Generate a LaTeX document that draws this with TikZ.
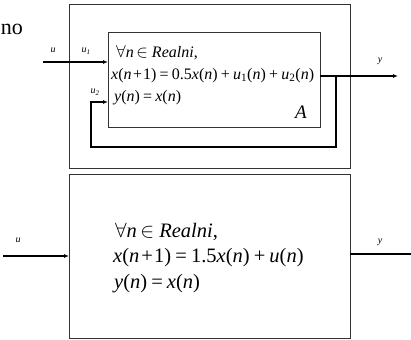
\documentclass[tikz,border=0pt]{standalone}
\usepackage{fontspec}
\setmainfont{Liberation Serif}
\usetikzlibrary{arrows.meta}
\newcommand{\vi}[1]{\textit{#1}}
\newcommand{\bop}[1]{\hspace{0.2em}#1\hspace{0.2em}}
\newcommand{\iop}[1]{\hspace{0.1em}#1\hspace{0.06em}}
\begin{document}
\begin{tikzpicture}[x=1pt,y=-1pt,
  boxx/.style={draw=black!80, line width=0.9pt, inner sep=0pt, outer sep=0pt},
  wire/.style={line width=1.2pt, -{Latex[length=5pt,width=4pt]}},
  plain/.style={line width=1.2pt},
  lbl/.style={font=\fontsize{10}{11}\selectfont\itshape, inner sep=0pt},
  eqA/.style={font=\fontsize{16}{18}\selectfont, inner sep=0pt, anchor=west},
  eqB/.style={font=\fontsize{20.5}{22}\selectfont, inner sep=0pt, anchor=west}]
\useasboundingbox (0,0) rectangle (411,339);
% top
\node[boxx, minimum width=281pt, minimum height=164pt] (outer) at (209.5,86) {};
\node[boxx, minimum width=212pt, minimum height=95pt] (inner) at (214,79.5) {};
\node[font=\fontsize{22}{24}\selectfont, inner sep=0pt, anchor=east] (no) at (23,29) {no};
\node[eqA] (a1) at (116,53) {$\forall$\vi{n}\,$\in$ \vi{Realni},};
\node[eqA] (a2) at (111,75.5) {\vi{x}(\vi{n}\iop{+}1)\bop{=}0.5\vi{x}(\vi{n})\bop{+}\vi{u}\textsubscript{1}(\vi{n})\bop{+}\vi{u}\textsubscript{2}(\vi{n})};
\node[eqA] (a3) at (114,98) {\vi{y}(\vi{n})\bop{=}\vi{x}(\vi{n})};
\node[font=\fontsize{19}{20}\selectfont\itshape, inner sep=0pt] (A) at (301,112) {A};
\coordinate (uin) at (43,62);
\coordinate (i1) at (inner.west |- uin);
\draw[wire] (uin) -- (i1);
\node[lbl] (lu) at (53,50) {u};
\node[lbl] (lu1) at (86,51) {u\textsubscript{1}};
\node[lbl] (lu2) at (95,92) {u\textsubscript{2}};
\coordinate (o1) at (inner.east |- 0,76);
\coordinate (yout) at (398,76);
\draw[wire] (o1) -- (yout);
\node[lbl] (ly) at (380,61) {y};
\coordinate (fb1) at (336,76);
\coordinate (fb2) at (336,147);
\coordinate (fb3) at (91,147);
\coordinate (fb4) at (91,102);
\coordinate (i2) at (inner.west |- fb4);
\draw[wire] (fb1) -- (fb2) -- (fb3) -- (fb4) -- (i2);
% bottom
\node[boxx, minimum width=281pt, minimum height=164pt] (bot) at (209.5,256) {};
\node[eqB] (b1) at (115,232) {$\forall$\vi{n}\,$\in$ \vi{Realni},};
\node[eqB] (b2) at (113,258) {\vi{x}(\vi{n}\iop{+}1)\bop{=}1.5\vi{x}(\vi{n})\bop{+}\vi{u}(\vi{n})};
\node[eqB] (b3) at (114,284) {\vi{y}(\vi{n})\bop{=}\vi{x}(\vi{n})};
\coordinate (buin) at (3,256);
\coordinate (bi) at (bot.west |- buin);
\draw[wire] (buin) -- (bi);
\node[lbl] (blu) at (18,240) {u};
\coordinate (bo) at (bot.east |- 0,254);
\coordinate (byout) at (411,254);
\draw[plain] (bo) -- (byout);
\node[lbl] (bly) at (380,242) {y};
\end{tikzpicture}
\end{document}
